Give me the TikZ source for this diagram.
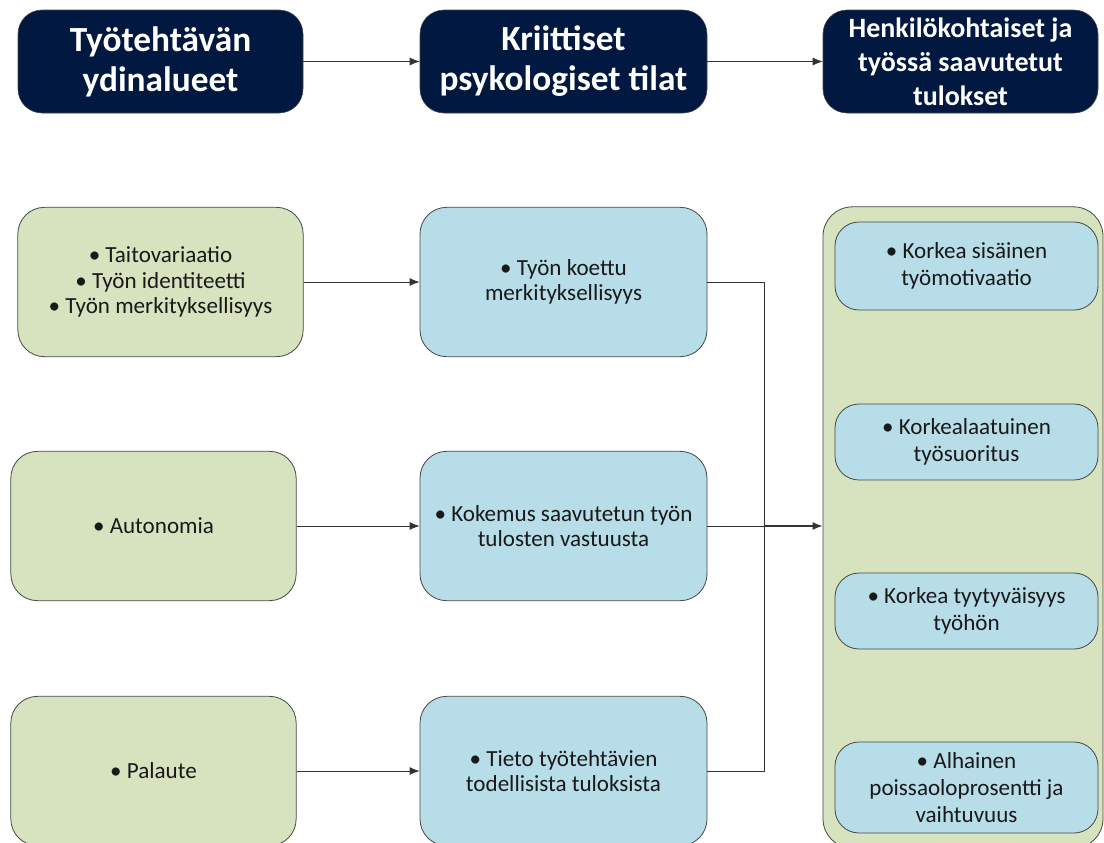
\documentclass[tikz,border=0pt]{standalone}
\usepackage{fontspec}
\setmainfont{Carlito}
\usetikzlibrary{positioning}
\usetikzlibrary{shapes.geometric, arrows.meta}
\definecolor{navy}{RGB}{1,24,64}
\definecolor{sage}{RGB}{215,227,190}
\definecolor{sky}{RGB}{183,221,232}
\definecolor{edge}{RGB}{70,70,70}
\tikzstyle{header} = [rectangle, rounded corners=18pt, minimum height=77.25pt, text centered, align=center, draw=edge, fill=navy, text=white, font=\bfseries\fontsize{26.5}{30}\selectfont]
\tikzstyle{core} = [rectangle, rounded corners=20pt, minimum width=214pt, minimum height=112pt, text centered, align=center, draw=edge, line width=0.6pt, fill=sage, text=black!90, font=\fontsize{17.3}{19}\selectfont]
\tikzstyle{state} = [rectangle, rounded corners=20pt, minimum width=215.25pt, minimum height=112pt, text centered, align=center, draw=edge, line width=0.6pt, fill=sky, text=black!90, font=\fontsize{17.3}{19}\selectfont]
\tikzstyle{outcome} = [rectangle, rounded corners=18pt, minimum width=197.25pt, text centered, align=center, draw=edge, line width=0.6pt, fill=sky, text=black!90, font=\fontsize{17.3}{20.5}\selectfont]
\tikzstyle{arrow} = [-{Latex[length=7.5pt,width=6pt]}, draw=black!80, line width=0.6pt]

\begin{document}
\begin{tikzpicture}[x=0.75pt,y=-0.75pt]
	\useasboundingbox (0,0) rectangle (1104,843);
	\clip (0,0) rectangle (1104,843);

	% otsikot
	\node (ydin) [header, minimum width=213.75pt] at (160.5,61.5) {Työtehtävän\\ydinalueet};
	\node (tilat) [header, minimum width=215.25pt] at (563.5,61.5) {Kriittiset\\psykologiset tilat};
	\node (tulokset) [header, minimum width=206.25pt, font=\bfseries\fontsize{21}{25.5}\selectfont] at (960.5,61.5) {Henkilökohtaiset ja\\työssä saavutetut\\tulokset};

	\draw [arrow] (ydin) -- (tilat);
	\draw [arrow] (tilat) -- (tulokset);

	% ydinalueet
	\node (taito) [core] at (160.5,282) {• Taitovariaatio\\• Työn identiteetti\\• Työn merkityksellisyys};
	\node (autonomia) [core] at (153.5,526) {• Autonomia};
	\node (palaute) [core] at (153.5,771) {• Palaute};

	% tilat
	\node (koettu) [state] at (563.5,282) {• Työn koettu\\merkityksellisyys};
	\node (vastuu) [state] at (563.5,526) {• Kokemus saavutetun työn\\tulosten vastuusta};
	\node (tieto) [state] at (563.5,771) {• Tieto työtehtävien\\todellisista tuloksista};

	% tulokset
	\node (kooste) [rectangle, rounded corners=22pt, minimum width=210pt, minimum height=481pt, draw=edge, line width=0.6pt, fill=sage] at (963,527.5) {};
	\node (motivaatio) [outcome, minimum height=66pt] at (966.5,266) {• Korkea sisäinen\\työmotivaatio};
	\node (suoritus) [outcome, minimum height=57pt] at (966.5,442) {• Korkealaatuinen\\työsuoritus};
	\node (tyytyvaisyys) [outcome, minimum height=57pt] at (966.5,611) {• Korkea tyytyväisyys\\työhön};
	\node (poissaolo) [outcome, minimum height=68.25pt] at (966.5,787.5) {• Alhainen\\poissaoloprosentti ja\\vaihtuvuus};

	\draw [arrow] (taito) -- (koettu);
	\draw [arrow] (autonomia) -- (vastuu);
	\draw [arrow] (palaute) -- (tieto);

	\coordinate (yhdys) at (764,526);
	\draw [draw=black!80, line width=0.6pt] (koettu.east) -| (yhdys);
	\draw [draw=black!80, line width=0.6pt] (tieto.east) -| (yhdys);
	\draw [draw=black!80, line width=0.6pt] (vastuu.east) -- (yhdys);
	\draw [arrow, line width=1pt] (yhdys) -- (yhdys -| kooste.west);

\end{tikzpicture}
\end{document}
